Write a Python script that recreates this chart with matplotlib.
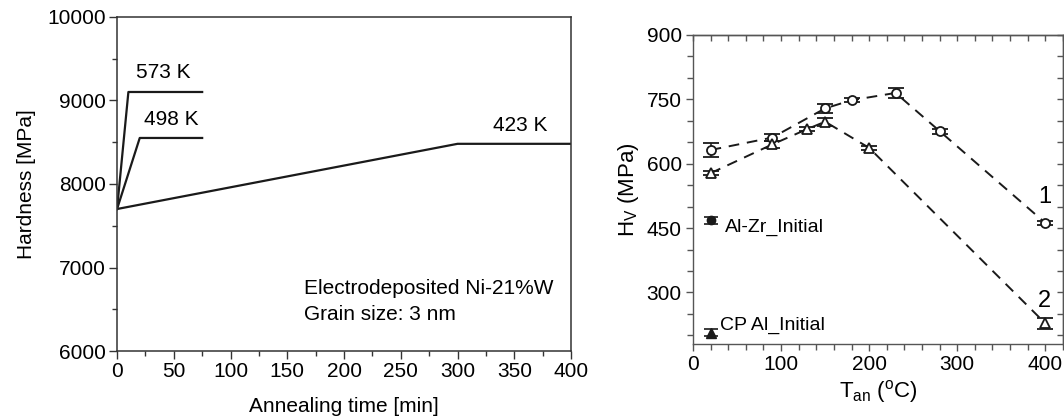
import matplotlib
matplotlib.use("Agg")
import matplotlib.pyplot as plt
from matplotlib.ticker import MultipleLocator

plt.rcParams['font.family'] = ['Liberation Sans', 'DejaVu Sans']
plt.rcParams['mathtext.fontset'] = 'custom'
plt.rcParams['mathtext.rm'] = 'Liberation Sans'
plt.rcParams['mathtext.it'] = 'Liberation Sans'

# --- Left panel: hardness vs annealing time (Ni-21%W) ---
time_423 = [0, 300, 400]
hard_423 = [7700, 8480, 8480]
time_498 = [0, 20, 75]
hard_498 = [7700, 8550, 8550]
time_573 = [0, 10, 75]
hard_573 = [7700, 9100, 9100]

# --- Right panel: Hv vs annealing temperature ---
t_series1 = [20, 90, 150, 180, 230, 280, 400]
hv_series1 = [632, 661, 729, 748, 765, 676, 462]
err_series1 = [16, 8, 11, 5, 12, 6, 5]
t_series2 = [20, 90, 130, 150, 200, 400]
hv_series2 = [578, 645, 681, 698, 637, 228]
err_series2 = [5, 9, 5, 9, 5, 12]
t_alzr, hv_alzr, err_alzr = [20], [468], [8]
t_cpal, hv_cpal, err_cpal = [20], [206], [8]

fig = plt.figure(figsize=(10.64, 4.19), dpi=100)
fs = 15

ax1 = fig.add_axes([0.110, 0.162, 0.4267, 0.798])
lw = 1.6
ax1.plot(time_423, hard_423, color='#1a1a1a', lw=lw)
ax1.plot(time_498, hard_498, color='#1a1a1a', lw=lw)
ax1.plot(time_573, hard_573, color='#1a1a1a', lw=lw)
ax1.set_xlim(0, 400)
ax1.set_ylim(6000, 10000)
ax1.xaxis.set_major_locator(MultipleLocator(50))
ax1.xaxis.set_minor_locator(MultipleLocator(25))
ax1.yaxis.set_major_locator(MultipleLocator(1000))
ax1.yaxis.set_minor_locator(MultipleLocator(500))
ax1.tick_params(which='both', direction='out', top=False, right=False,
                labelsize=fs, color='#333333', pad=2)
ax1.tick_params(which='major', length=6, width=1)
ax1.tick_params(which='minor', length=3.5, width=1)
ax1.set_xlabel('Annealing time [min]', fontsize=fs, labelpad=11)
ax1.set_ylabel('Hardness [MPa]', fontsize=fs, labelpad=8)
for sp in ax1.spines.values():
    sp.set_color('#333333')
    sp.set_linewidth(1.1)
ax1.text(17, 9330, '573 K', fontsize=fs, ha='left', va='center')
ax1.text(23.5, 8776, '498 K', fontsize=fs, ha='left', va='center')
ax1.text(331, 8700, '423 K', fontsize=fs, ha='left', va='center')
ax1.text(165, 6750, 'Electrodeposited Ni-21%W', fontsize=fs, ha='left', va='center')
ax1.text(165, 6440, 'Grain size: 3 nm', fontsize=fs, ha='left', va='center')

# Right panel
ax2 = fig.add_axes([0.6513, 0.179, 0.3477, 0.7375])
dash = (0, (5.5, 4))
ax2.plot(t_series1, hv_series1, color='#1a1a1a', lw=1.4, linestyle=dash)
ax2.plot(t_series2, hv_series2, color='#1a1a1a', lw=1.4, linestyle=dash)
ax2.errorbar(t_series1, hv_series1, yerr=err_series1, fmt='o', ms=6.5,
             mfc='white', mec='#1a1a1a', mew=1.3, ecolor='#1a1a1a',
             elinewidth=1.1, capsize=6, capthick=1.2, zorder=3)
ax2.errorbar(t_series2, hv_series2, yerr=err_series2, fmt='^', ms=7.5,
             mfc='white', mec='#1a1a1a', mew=1.3, ecolor='#1a1a1a',
             elinewidth=1.1, capsize=6, capthick=1.2, zorder=3)
ax2.errorbar(t_alzr, hv_alzr, yerr=err_alzr, fmt='o', ms=6,
             mfc='#1a1a1a', mec='#1a1a1a', ecolor='#1a1a1a',
             elinewidth=1.1, capsize=5, capthick=1.2, zorder=3)
ax2.errorbar(t_cpal, hv_cpal, yerr=err_cpal, fmt='^', ms=7,
             mfc='#1a1a1a', mec='#1a1a1a', ecolor='#1a1a1a',
             elinewidth=1.1, capsize=5, capthick=1.2, zorder=3)
ax2.set_xlim(0, 420)
ax2.set_ylim(180, 900)
ax2.xaxis.set_major_locator(MultipleLocator(100))
ax2.xaxis.set_minor_locator(MultipleLocator(20))
ax2.yaxis.set_major_locator(MultipleLocator(150))
ax2.yaxis.set_minor_locator(MultipleLocator(50))
ax2.tick_params(which='both', direction='out', labelsize=fs, color='#555555', pad=3)
ax2.tick_params(which='major', length=5, width=1)
ax2.tick_params(which='minor', length=4, width=1)
# mirrored inward ticks on top and right
ax2t = ax2.secondary_xaxis('top')
ax2t.xaxis.set_major_locator(MultipleLocator(20))
ax2t.tick_params(which='both', direction='in', length=4, width=1,
                 labeltop=False, color='#555555')
ax2r = ax2.secondary_yaxis('right')
ax2r.yaxis.set_major_locator(MultipleLocator(50))
ax2r.tick_params(which='both', direction='in', length=4, width=1,
                 labelright=False, color='#555555')
for sp in list(ax2.spines.values()) + [ax2t.spines['top'], ax2r.spines['right']]:
    sp.set_color('#555555')
    sp.set_linewidth(1.0)
ax2.set_xlabel(r'T$_{\mathregular{an}}$ ($^{\mathregular{o}}$C)', fontsize=fs + 1, labelpad=3)
ax2.set_ylabel(r'H$_{\mathregular{V}}$ (MPa)', fontsize=fs + 1, labelpad=4)
ax2.text(36, 452, 'Al-Zr_Initial', fontsize=fs - 1, ha='left', va='center')
ax2.text(31, 223, 'CP Al_Initial', fontsize=fs - 1, ha='left', va='center')
ax2.text(399, 522, '1', fontsize=fs + 2, ha='center', va='center')
ax2.text(399, 281, '2', fontsize=fs + 2, ha='center', va='center')

fig.savefig('out.png', dpi=100)
